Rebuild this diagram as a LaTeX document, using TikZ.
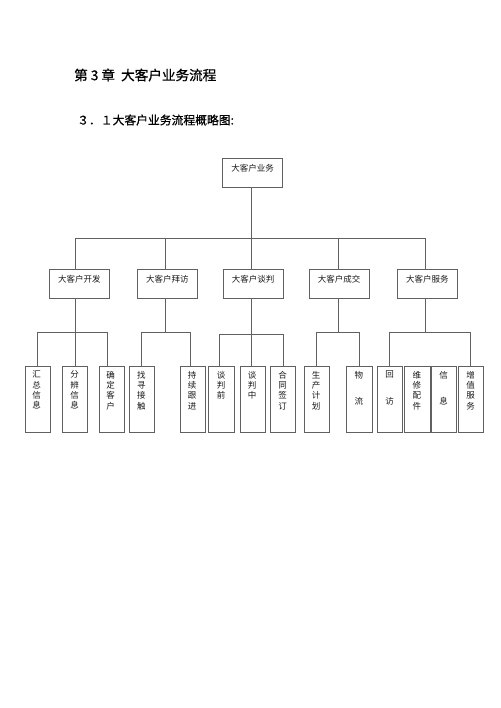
\documentclass[tikz,border=0pt]{standalone}
\usepackage{fontspec}
\setmainfont{Liberation Serif}
\newfontfamily\cjk{Noto Sans CJK SC}
\newfontfamily\cjkh[FakeBold=0.8]{Noto Sans CJK SC}
\usetikzlibrary{calc}
\tikzset{
  ln/.style={draw=black!62, line width=0.8pt},
  mainbox/.style={ln, minimum width=60pt, minimum height=29pt, inner sep=0pt},
  leafbox/.style={ln, minimum width=25.3pt, minimum height=65.5pt, inner sep=0pt},
  boxtext/.style={font=\cjk\fontsize{8.5}{10}\selectfont, inner sep=0pt, text=black!90},
  vtext/.style={font=\cjk\fontsize{8.5}{10.3}\selectfont, align=center, inner sep=0pt, anchor=north, text=black!90},
  titletext/.style={font=\cjkh\fontsize{13.6}{15}\selectfont, inner sep=0pt, anchor=west},
  subtext/.style={font=\cjkh\fontsize{11.8}{14}\selectfont, inner sep=0pt, anchor=west},
}
\begin{document}
\begin{tikzpicture}[x=1pt,y=-1pt]
\useasboundingbox (0,0) rectangle (500,708);

% headings
\node[titletext] (title) at (74,75) {第 3 章\ \ 大客户业务流程};
\node[subtext] (sub) at (77,120) {３．１大客户业务流程概略图:};

% root
\node[mainbox] (root) at (252.7,172.8) {};
\node[boxtext] (troot) at (252.7,168.3) {大客户业务};

% level 2 boxes
\node[mainbox] (k1) at (79.3,283.8) {};
\node[mainbox] (k2) at (167.3,283.8) {};
\node[mainbox] (k3) at (253,283.8) {};
\node[mainbox] (k4) at (339,283.8) {};
\node[mainbox] (k5) at (427.3,283.8) {};
\node[boxtext] (tk1) at (79.3,279.3) {大客户开发};
\node[boxtext] (tk2) at (167.3,279.3) {大客户拜访};
\node[boxtext] (tk3) at (253,279.3) {大客户谈判};
\node[boxtext] (tk4) at (339,279.3) {大客户成交};
\node[boxtext] (tk5) at (427.3,279.3) {大客户服务};

% leaves
\node[leafbox] (l1) at (37.8,399.6) {};
\node[leafbox] (l2) at (75,399.6) {};
\node[leafbox] (l3) at (111.7,399.6) {};
\node[leafbox] (l4) at (141.8,399.6) {};
\node[leafbox] (l5) at (192.7,399.6) {};
\node[leafbox] (l6) at (221.5,399.6) {};
\node[leafbox] (l7) at (252.7,399.6) {};
\node[leafbox] (l8) at (283.2,399.6) {};
\node[leafbox] (l9) at (316.7,399.6) {};
\node[leafbox] (l10) at (359.3,399.6) {};
\node[leafbox] (l11) at (390.2,399.6) {};
\node[leafbox] (l12) at (417.3,399.6) {};
\node[leafbox] (l13) at (444.2,399.6) {};
\node[leafbox] (l14) at (471.2,399.6) {};

\node[vtext] (v1) at (36.5,370.8) {汇\\总\\信\\息};
\node[vtext] (v2) at (74.5,370.8) {分\\辨\\信\\息};
\node[vtext] (v3) at (110.7,370.8) {确\\定\\客\\户};
\node[vtext] (v4) at (141.3,370.8) {找\\寻\\接\\触};
\node[vtext] (v5) at (192.2,370.8) {持\\续\\跟\\进};
\node[vtext] (v6) at (221,370.8) {谈\\判\\前};
\node[vtext] (v7) at (252.2,370.8) {谈\\判\\中};
\node[vtext] (v8) at (282.7,370.8) {合\\同\\签\\订};
\node[vtext] (v9) at (316.2,370.8) {生\\产\\计\\划};
\node[vtext] (v10) at (358.8,370.8) {物\\[16.4pt]流};
\node[vtext] (v11) at (389.7,370.8) {回\\[16.4pt]访};
\node[vtext] (v12) at (416.8,370.8) {维\\修\\配\\件};
\node[vtext] (v13) at (443.7,370.8) {信\\[16.4pt]息};
\node[vtext] (v14) at (470.7,370.8) {增\\值\\服\\务};

% top bus
\coordinate (b0) at (251,238.3);
\coordinate (d1) at (75,238.3);
\coordinate (d2) at (165,238.3);
\coordinate (d3) at (251.7,238.3);
\coordinate (d4) at (338.3,238.3);
\coordinate (d5) at (425.3,238.3);
\draw[ln] (root.south -| b0) -- (b0);
\draw[ln] (d1) -- (d5);
\foreach \i in {1,...,5} {\draw[ln] (d\i) -- (d\i |- k\i.north);}

% group 1
\coordinate (g1) at (75,332.3);
\coordinate (e1) at (37.3,332.3);
\coordinate (e2) at (75,332.3);
\coordinate (e3) at (107.7,332.3);
\draw[ln] (k1.south -| g1) -- (g1);
\draw[ln] (e1) -- (e3);
\draw[ln] (e1) -- (e1 |- l1.north);
\draw[ln] (e2) -- (e2 |- l2.north);
\draw[ln] (e3) -- (e3 |- l3.north);

% group 2
\coordinate (g2) at (165,332.3);
\coordinate (e4) at (141,332.3);
\coordinate (e5) at (190,332.3);
\draw[ln] (k2.south -| g2) -- (g2);
\draw[ln] (e4) -- (e5);
\draw[ln] (e4) -- (e4 |- l4.north);
\draw[ln] (e5) -- (e5 |- l5.north);

% group 3
\coordinate (g3) at (251.7,334);
\coordinate (e6) at (219,334);
\coordinate (e7) at (251.7,334);
\coordinate (e8) at (283.3,334);
\draw[ln] (k3.south -| g3) -- (g3);
\draw[ln] (e6) -- (e8);
\draw[ln] (e6) -- (e6 |- l6.north);
\draw[ln] (e7) -- (e7 |- l7.north);
\draw[ln] (e8) -- (e8 |- l8.north);

% group 4
\coordinate (g4) at (338.3,332.3);
\coordinate (e9) at (316,332.3);
\coordinate (e10) at (359,332.3);
\draw[ln] (k4.south -| g4) -- (g4);
\draw[ln] (e9) -- (e10);
\draw[ln] (e9) -- (e9 |- l9.north);
\draw[ln] (e10) -- (e10 |- l10.north);

% group 5
\coordinate (g5) at (425.3,332.3);
\coordinate (e11) at (389.3,332.3);
\coordinate (e14) at (470,332.3);
\draw[ln] (k5.south -| g5) -- (g5);
\draw[ln] (e11) -- (e14);
\draw[ln] (e11) -- (e11 |- l11.north);
\draw[ln] (e14) -- (e14 |- l14.north);
\end{tikzpicture}
\end{document}
